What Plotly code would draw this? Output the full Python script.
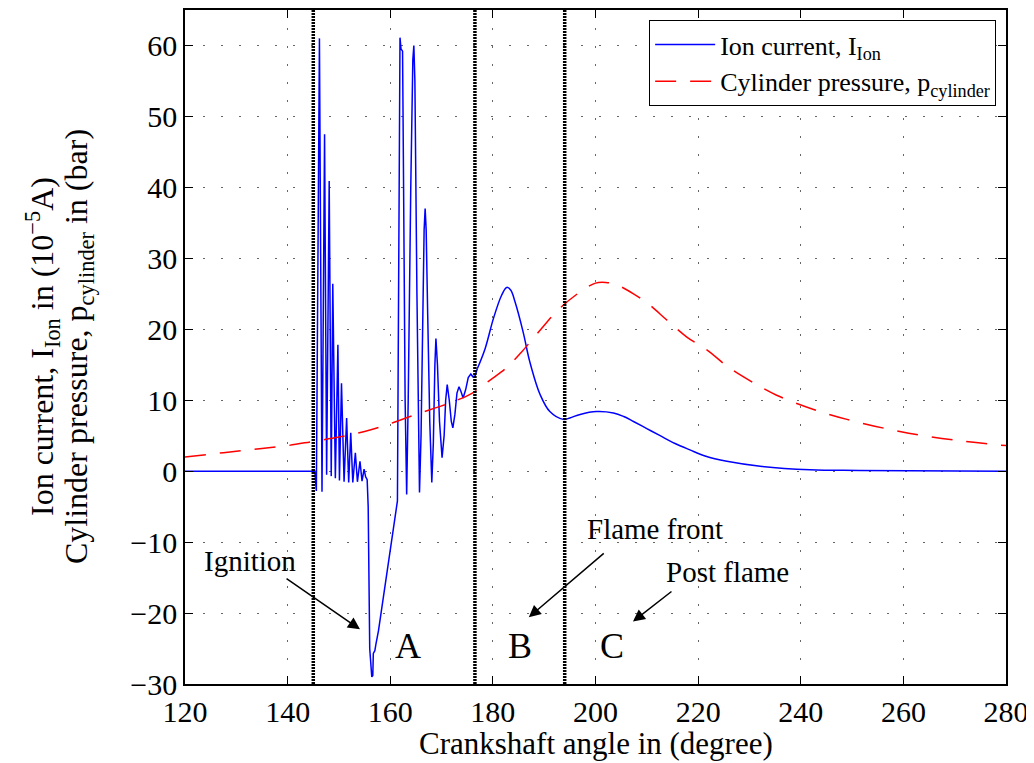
import plotly.graph_objects as go

# ---------------- data ----------------
ion_angle = [120, 145.3, 145.6, 146.2, 146.7, 147.2, 147.6, 148.1, 148.5, 148.8, 149.3, 149.8,
             150.1, 150.5, 151.0, 151.5, 151.9, 152.3, 152.7, 153.2, 153.6, 154.1, 154.5, 154.9,
             155.2, 155.5, 155.7, 156.0, 156.4, 156.6, 156.7, 157.0, 157.2, 157.7, 161.4,
             161.6, 161.8, 161.9, 162.1, 162.4, 162.6, 162.9, 163.2, 163.5, 164.0, 164.4, 164.6,
             164.8, 165.2, 165.7, 166.0, 166.3, 166.6, 166.8, 167.0, 167.3, 167.7, 168.1, 168.4,
             168.7, 168.9, 169.2, 169.6, 170.1, 170.5, 170.8, 171.1, 171.5, 171.9, 172.2, 172.6,
             173.0, 173.4, 173.8, 174.2, 174.7, 175.2, 175.7, 176.1, 176.5, 177.0, 178.5, 180.1,
             181.7, 182.7, 183.5, 184.3, 185.9, 187.2, 189.2, 191.1, 193.7, 195.0, 197.0, 200.2,
             203.5, 205.5, 207.4, 210.0, 212.6, 215.5, 218.4, 221.5, 225.6, 232.1, 241.8, 251.5, 280]
ion_current = [0, 0, -2.8, 61.0, -2.9, 47.5, -0.5, 40.9, -0.7, 26.4, -1.0, 17.8,
               -1.3, 12.4, -1.5, 7.5, -1.6, 5.4, -1.6, 2.6, -1.5, 1.4, -1.4, 0.3,
               -0.8, -1.2, -5.0, -25.0, -29.0, -28.8, -25.7, -25.3, -24.4, -22.5, -4.2,
               20, 55, 61.1, 59.5, 59.2, 40, 10, -3.3, 10, 40, 58, 60.0,
               55, 25, -3.0, 5, 22, 34, 37.0, 34, 22, 7, -1.6, 4,
               15, 18.7, 15, 7, 1.9, 5, 10, 12.2, 10, 7, 6.1, 8,
               11, 11.9, 11.2, 10.3, 11.5, 13.2, 13.7, 13.3, 13.4, 14.5, 17.3, 21.5,
               24.8, 25.9, 25.5, 23.9, 19.6, 15.4, 10.8, 8.4, 7.3, 7.5, 8.0, 8.4,
               8.2, 7.7, 7.0, 6.0, 5.0, 3.9, 3.0, 2.1, 1.4, 0.7, 0.2, 0.1, 0.0]

p_angle = [120, 125, 130, 135, 140, 145, 150, 155, 160, 165, 170, 172.3, 176, 179.4, 182.7,
           185.6, 188.9, 192.4, 196.3, 200, 202, 204, 207.4, 210.6, 213.9, 217.8, 221.7, 226,
           231.4, 235.3, 242.5, 249, 259.3, 269.7, 280]
p_cylinder = [2.0, 2.4, 2.8, 3.2, 3.6, 4.2, 4.8, 5.6, 6.7, 8.0, 9.2, 9.8, 11.0, 12.8, 14.6,
              16.8, 19.6, 22.5, 24.9, 26.5, 26.6, 26.3, 25.0, 23.4, 21.3, 18.9, 17.1, 14.6,
              12.2, 10.7, 8.7, 7.3, 5.6, 4.4, 3.6]

phase_bounds = [145, 176.5, 194]

x_ticks = [120, 140, 160, 180, 200, 220, 240, 260, 280]
y_ticks = [-30, -20, -10, 0, 10, 20, 30, 40, 50, 60]

labels = ["Ignition", "Flame front", "Post flame"]
label_x = [132.7, 211.6, 225.8]
label_y = [-12.6, -8.1, -14.2]
arrow_tail_x = [139.5, 201.9, 215.1]
arrow_tail_y = [-15.0, -11.4, -16.8]
arrow_head_x = [154.1, 187.0, 207.3]
arrow_head_y = [-22.3, -20.6, -21.2]

zones = ["A", "B", "C"]
zone_x = [163.5, 185.3, 203.2]
zone_y = [-24.6, -24.6, -24.6]

y_title_lines = ["Ion current, I<sub>Ion</sub> in (10<sup>\u22125</sup>A)",
                 "Cylinder pressure, p<sub>cylinder</sub> in (bar)"]
x_title = "Crankshaft angle in (degree)"

FONT = "Liberation Serif, Times New Roman, serif"

# split the ion trace: sharp oscillation part (linear) and smooth flame part (spline)
split = ion_angle.index(177.0)

fig = go.Figure()
fig.add_trace(go.Scatter(x=ion_angle[:split + 1], y=ion_current[:split + 1], mode="lines",
                         name="Ion current, I<sub>Ion</sub>", legendgroup="ion",
                         line=dict(color="#0000ff", width=1.5)))
fig.add_trace(go.Scatter(x=ion_angle[split:], y=ion_current[split:], mode="lines",
                         line_shape="spline", showlegend=False, legendgroup="ion",
                         line=dict(color="#0000ff", width=1.5)))
fig.add_trace(go.Scatter(x=p_angle, y=p_cylinder, mode="lines", line_shape="spline",
                         name="Cylinder pressure, p<sub>cylinder</sub>",
                         line=dict(color="#ff0000", width=1.5, dash="21px,14px")))

for xb in phase_bounds:
    fig.add_shape(type="line", x0=xb, x1=xb, y0=0, y1=1, xref="x", yref="paper",
                  line=dict(color="black", width=3.5, dash="2px,1px"))

for t, tx, ty in zip(labels, label_x, label_y):
    fig.add_annotation(x=tx, y=ty, text=t, showarrow=False, xref="x", yref="y",
                       font=dict(family=FONT, size=29, color="black"))
for hx, hy, tx, ty in zip(arrow_head_x, arrow_head_y, arrow_tail_x, arrow_tail_y):
    fig.add_annotation(x=hx, y=hy, ax=tx, ay=ty, xref="x", yref="y", axref="x", ayref="y",
                       text="", showarrow=True, arrowhead=2, arrowsize=1.6, arrowwidth=1.5,
                       arrowcolor="black")
for z, zx, zy in zip(zones, zone_x, zone_y):
    fig.add_annotation(x=zx, y=zy, text=z, showarrow=False, xref="x", yref="y",
                       font=dict(family=FONT, size=36, color="black"))

# axis titles
for line_text, shift in zip(y_title_lines, [-143, -107]):
    fig.add_annotation(x=0, y=0.5, xref="paper", yref="paper", xshift=shift, textangle=-90,
                       showarrow=False, xanchor="center", yanchor="middle",
                       text=line_text, font=dict(family=FONT, size=32, color="black"))
fig.add_annotation(x=0.5, y=0, xref="paper", yref="paper", yshift=-59,
                   showarrow=False, xanchor="center", yanchor="middle",
                   text=x_title, font=dict(family=FONT, size=31, color="black"))

axis_common = dict(showline=True, linecolor="black", linewidth=1.5, mirror="allticks",
                   ticks="inside", ticklen=8, tickcolor="black", tickwidth=1,
                   showgrid=True, gridcolor="#666666", gridwidth=1.2, griddash="2px,16px",
                   zeroline=False, tickfont=dict(family=FONT, size=30, color="black"))

fig.update_xaxes(range=[120, 280], tickvals=x_ticks, ticktext=[str(v) for v in x_ticks],
                 **axis_common)
fig.update_yaxes(range=[-30, 65], tickvals=y_ticks,
                 ticktext=[("\u2212" + str(-v)) if v < 0 else str(v) for v in y_ticks],
                 **axis_common)

# page body adds an 8px offset, so the figure is sized/margined to compensate
fig.update_layout(
    width=1026, height=755,
    margin=dict(l=177, r=28, t=0, b=79),
    paper_bgcolor="white", plot_bgcolor="white",
    font=dict(family=FONT, color="black"),
    showlegend=True,
    legend=dict(x=0.988, y=0.985, xanchor="right", yanchor="top",
                bgcolor="white", bordercolor="black", borderwidth=1,
                font=dict(family=FONT, size=26, color="black"),
                itemwidth=60, tracegroupgap=0),
)

fig.write_html("out.html")
